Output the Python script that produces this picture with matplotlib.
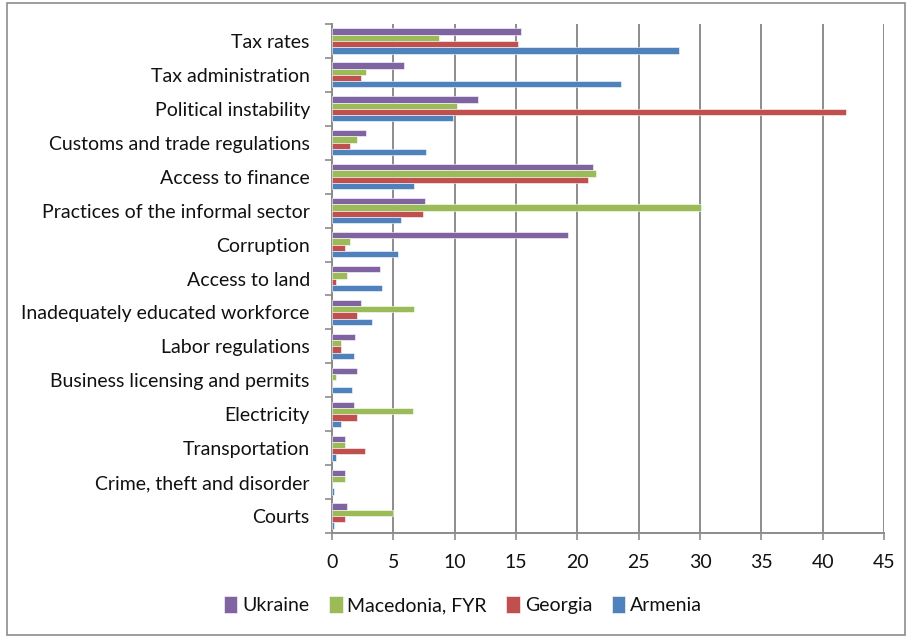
import numpy as np
import matplotlib
matplotlib.use("Agg")
import matplotlib.pyplot as plt
from matplotlib.patches import Rectangle

plt.rcParams['font.family'] = ['Lato', 'DejaVu Sans']

# Données
categories = ['Tax rates', 'Tax administration', 'Political instability',
              'Customs and trade regulations', 'Access to finance',
              'Practices of the informal sector', 'Corruption', 'Access to land',
              'Inadequately educated workforce', 'Labor regulations',
              'Business licensing and permits', 'Electricity', 'Transportation',
              'Crime, theft and disorder', 'Courts']
ukraine = [15.4, 5.9, 11.9, 2.8, 21.3, 7.6, 19.2, 3.9, 2.4, 1.9, 2.0, 1.8, 1.1, 1.1, 1.25]
macedonia = [8.7, 2.8, 10.2, 2.0, 21.5, 30.1, 1.5, 1.2, 6.7, 0.7, 0.3, 6.6, 1.1, 1.1, 5.0]
georgia = [15.2, 2.4, 41.9, 1.5, 20.9, 7.4, 1.1, 0.3, 2.0, 0.7, 0.0, 2.0, 2.7, 0.0, 1.1]
armenia = [28.3, 23.6, 9.9, 7.7, 6.7, 5.6, 5.4, 4.1, 3.3, 1.8, 1.6, 0.7, 0.3, 0.2, 0.2]

series = [('Ukraine', ukraine, '#8064A2'),
          ('Macedonia, FYR', macedonia, '#9BBB59'),
          ('Georgia', georgia, '#C0504D'),
          ('Armenia', armenia, '#4F81BD')]

fs = 14

fig = plt.figure(figsize=(9.1, 6.37), dpi=100)
ax = fig.add_axes([332/910, 1 - 533/637, (884 - 332)/910, (533 - 24)/637])

n = len(categories)
y = np.arange(n)[::-1]  # première catégorie en haut
h = 0.185
for i, (name, vals, col) in enumerate(series):
    ax.barh(y + (1.5 - i) * h, vals, height=h, color=col, label=name,
            edgecolor='white', linewidth=0.4, zorder=3)

ax.set_xlim(0, 45)
ax.set_ylim(-0.5, n - 0.5)
ax.set_xticks(np.arange(0, 46, 5))
ax.set_yticks(y)
ax.set_yticklabels(categories)
ax.set_yticks(np.arange(n + 1) - 0.5, minor=True)
ax.tick_params(axis='y', which='major', length=0, pad=16, labelsize=fs, labelcolor='#111111')
ax.tick_params(axis='y', which='minor', length=5, color='#8c8c8c', width=1.2)
ax.tick_params(axis='x', length=5, color='#8c8c8c', width=1.2, pad=10, labelsize=fs,
               labelcolor='#111111')

ax.grid(axis='x', color='#8c8c8c', linewidth=1.4, zorder=0)
for s in ['top', 'right']:
    ax.spines[s].set_visible(False)
for s in ['left', 'bottom']:
    ax.spines[s].set_color('#8c8c8c')
    ax.spines[s].set_linewidth(1.4)

fig.legend(loc='center', bbox_to_anchor=(463/910, 1 - 605/637), ncol=4, frameon=False,
           fontsize=fs, handlelength=0.7, handleheight=1.0, columnspacing=1.0,
           handletextpad=0.25, labelcolor='#111111')

# Cadre du graphique
fig.patches.append(Rectangle((7/910, 2/637), 898/910, 632/637, transform=fig.transFigure,
                             fill=False, edgecolor='#8c8c8c', linewidth=1.2))

fig.savefig('out.png', dpi=100)
